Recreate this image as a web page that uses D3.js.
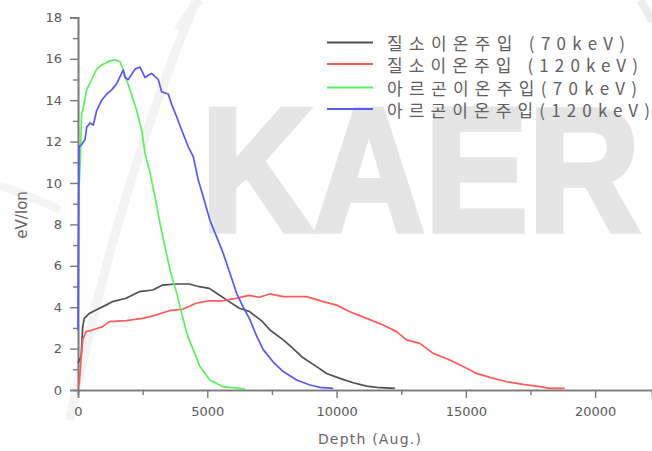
<!DOCTYPE html>
<html>
<head>
<meta charset="utf-8">
<script src="https://cdn.jsdelivr.net/npm/d3@7/dist/d3.min.js"></script>
<style>
  html, body { margin: 0; padding: 0; background: #fff; }
  svg { display: block; }
</style>
</head>
<body>
<svg id="chart" width="652" height="451"></svg>
<script>
// Energy deposition (eV/Ion) versus depth for nitrogen and argon implantation
const seriesNames = [
  "질소이온주입 (70keV)",
  "질소이온주입 (120keV)",
  "아르곤이온주입(70keV)",
  "아르곤이온주입(120keV)"
];
const seriesColors = ["#505050", "#ff5a5a", "#5cf05c", "#5a5af0"];

// [depth (Å), eV/Ion]
const nitrogen70 = [
  [0, 1.3], [50, 1.45], [120, 1.6], [182, 3.06], [244, 3.46], [437, 3.7], [696, 3.86],
  [1082, 4.1], [1341, 4.27], [1856, 4.43], [2370, 4.75], [2888, 4.83], [3274, 5.07],
  [3789, 5.12], [4303, 5.12], [4690, 4.99], [5076, 4.91], [5463, 4.59], [5849, 4.27],
  [6236, 3.95], [6622, 3.8], [7141, 3.3], [7423, 2.9], [7937, 2.42], [8324, 2.0],
  [8648, 1.61], [9228, 1.13], [9615, 0.8], [10129, 0.56], [10643, 0.35], [11161, 0.19],
  [11675, 0.11], [12255, 0.08]
];
const nitrogen120 = [
  [0, 0.2], [50, 0.32], [116, 1.45], [182, 2.42], [309, 2.82], [568, 2.9], [955, 3.06],
  [1210, 3.3], [1856, 3.35], [2501, 3.46], [3015, 3.62], [3530, 3.83], [4048, 3.9],
  [4562, 4.19], [5076, 4.31], [5594, 4.31], [6108, 4.43], [6622, 4.57], [7009, 4.48],
  [7423, 4.64], [7937, 4.51], [8841, 4.51], [9483, 4.27], [10001, 4.1], [10515, 3.78],
  [11161, 3.46], [11803, 3.14], [12321, 2.82], [12708, 2.42], [13222, 2.25], [13736, 1.77],
  [14381, 1.45], [15027, 1.05], [15414, 0.8], [15928, 0.61], [16573, 0.4], [17215, 0.27],
  [17861, 0.16], [18247, 0.08], [18827, 0.08]
];
const argon70 = [
  [50, 10.0], [90, 11.2], [140, 13.4], [182, 13.5], [336, 14.5], [530, 15.0], [723, 15.5],
  [916, 15.7], [1237, 15.9], [1450, 15.95], [1624, 15.86], [1751, 15.46], [2010, 14.5],
  [2269, 13.5], [2463, 12.56], [2590, 11.45], [2784, 10.5], [2977, 9.34], [3170, 8.06],
  [3364, 6.92], [3557, 5.8], [3816, 4.68], [4009, 3.72], [4202, 2.75], [4458, 1.93],
  [4717, 1.13], [5103, 0.48], [5606, 0.16], [6456, 0.05]
];
const argon120 = [
  [0, 2.9], [40, 11.8], [110, 11.8], [271, 12.1], [336, 12.7], [464, 12.9], [592, 12.8],
  [723, 13.5], [916, 14.0], [1110, 14.3], [1303, 14.5], [1496, 14.8], [1751, 15.46],
  [1817, 15.1], [1945, 15.0], [2204, 15.5], [2397, 15.6], [2590, 15.1], [2849, 15.3],
  [3104, 15.0], [3236, 14.4], [3491, 14.3], [3622, 13.8], [3816, 13.2], [4009, 12.56],
  [4264, 11.75], [4458, 11.27], [4651, 10.14], [4844, 9.34], [5103, 8.2], [5362, 7.4],
  [5617, 6.6], [5876, 5.64], [6135, 4.67], [6390, 4.0], [6650, 3.4], [6909, 2.6],
  [7164, 1.95], [7550, 1.35], [7937, 0.89], [8455, 0.48], [8969, 0.24], [9356, 0.13],
  [9870, 0.08]
];
const seriesData = [nitrogen70, nitrogen120, argon70, argon120];

const xMajorTicks = [0, 5000, 10000, 15000, 20000];
const xMinorTicks = [2500, 7500, 12500, 17500];
const yMajorTicks = [0, 2, 4, 6, 8, 10, 12, 14, 16, 18];
const yMinorTicks = [1, 3, 5, 7, 9, 11, 13, 15, 17];

const svg = d3.select("#chart");
const x = d3.scaleLinear().domain([0, 22200]).range([78, 652]);
const y = d3.scaleLinear().domain([0, 18]).range([390, 17.4]);

// faint background logo
const bg = svg.append("g");
bg.append("path")
  .attr("d", "M70,420 C95,300 130,160 196,0")
  .attr("fill", "none").attr("stroke", "#f3f3f3").attr("stroke-width", 9);
bg.append("path")
  .attr("d", "M0,186 C20,192 40,200 60,210")
  .attr("fill", "none").attr("stroke", "#f4f4f4").attr("stroke-width", 8);
bg.append("path")
  .attr("d", "M178,30 C185,18 192,8 200,0")
  .attr("fill", "none").attr("stroke", "#f2f2f2").attr("stroke-width", 8);
bg.append("path")
  .attr("d", "M640,0 C645,8 650,16 652,22")
  .attr("fill", "none").attr("stroke", "#ececec").attr("stroke-width", 8);
bg.append("text")
  .attr("transform", "translate(201,231) scale(1,1.14)")
  .attr("font-family", "Liberation Sans, Arial, sans-serif")
  .attr("font-weight", "bold")
  .attr("font-size", 155)
  .attr("fill", "#e5e5e5")
  .attr("stroke", "#e5e5e5")
  .attr("stroke-width", 5)
  .attr("stroke-linejoin", "miter")
  .text("KAER");

const axisColor = "#7a7a7a";
const labelColor = "#5a5a5a";
const tickFont = "DejaVu Sans, sans-serif";

// y axis
const yMinor = svg.append("g").attr("transform", "translate(78,0)")
  .call(d3.axisLeft(y).tickValues(yMinorTicks).tickSize(5).tickFormat(""));
const yMajor = svg.append("g").attr("transform", "translate(78,0)")
  .call(d3.axisLeft(y).tickValues(yMajorTicks).tickSize(8).tickPadding(8).tickFormat(d3.format("d")));
// x axis
const xMinor = svg.append("g").attr("transform", "translate(0,390)")
  .call(d3.axisBottom(x).tickValues(xMinorTicks).tickSize(5).tickFormat(""));
const xMajor = svg.append("g").attr("transform", "translate(0,390)")
  .call(d3.axisBottom(x).tickValues(xMajorTicks).tickSize(8).tickPadding(9).tickFormat(d3.format("d")));

[yMinor, yMajor, xMinor, xMajor].forEach(g => {
  g.select(".domain").attr("stroke", axisColor).attr("stroke-width", 1.6);
  g.selectAll(".tick line").attr("stroke", axisColor).attr("stroke-width", 1.4);
  g.selectAll(".tick text")
    .attr("fill", labelColor)
    .attr("font-family", tickFont)
    .attr("font-size", 13);
});

// axis titles
svg.append("text")
  .attr("transform", "translate(27,215) rotate(-90)")
  .attr("text-anchor", "middle")
  .attr("font-family", tickFont)
  .attr("font-size", 15)
  .attr("fill", "#666")
  .text("eV/Ion");
svg.append("text")
  .attr("x", 370).attr("y", 444)
  .attr("text-anchor", "middle")
  .attr("font-family", tickFont)
  .attr("font-size", 14)
  .attr("letter-spacing", 1.2)
  .attr("fill", "#666")
  .text("Depth (Aug.)");

// curves
const line = d3.line().x(d => x(d[0])).y(d => y(d[1]));
svg.append("g").selectAll("path")
  .data(seriesData)
  .join("path")
  .attr("d", line)
  .attr("fill", "none")
  .attr("stroke", (d, i) => seriesColors[i])
  .attr("stroke-width", 1.7)
  .attr("stroke-linejoin", "round");

// legend
const legendRows = [42.5, 64, 87.5, 109];
const legendWidths = [238, 251, 250, 263];
const legend = svg.append("g");
seriesNames.forEach((name, i) => {
  legend.append("line")
    .attr("x1", 327).attr("x2", 373)
    .attr("y1", legendRows[i]).attr("y2", legendRows[i])
    .attr("stroke", seriesColors[i]).attr("stroke-width", 1.8);
  legend.append("text")
    .attr("x", 387).attr("y", legendRows[i])
    .attr("dominant-baseline", "central")
    .attr("font-family", "Noto Sans CJK KR, sans-serif")
    .attr("font-size", 17)
    .attr("textLength", legendWidths[i])
    .attr("lengthAdjust", "spacing")
    .attr("fill", "#606060")
    .text(name);
});
</script>
</body>
</html>
